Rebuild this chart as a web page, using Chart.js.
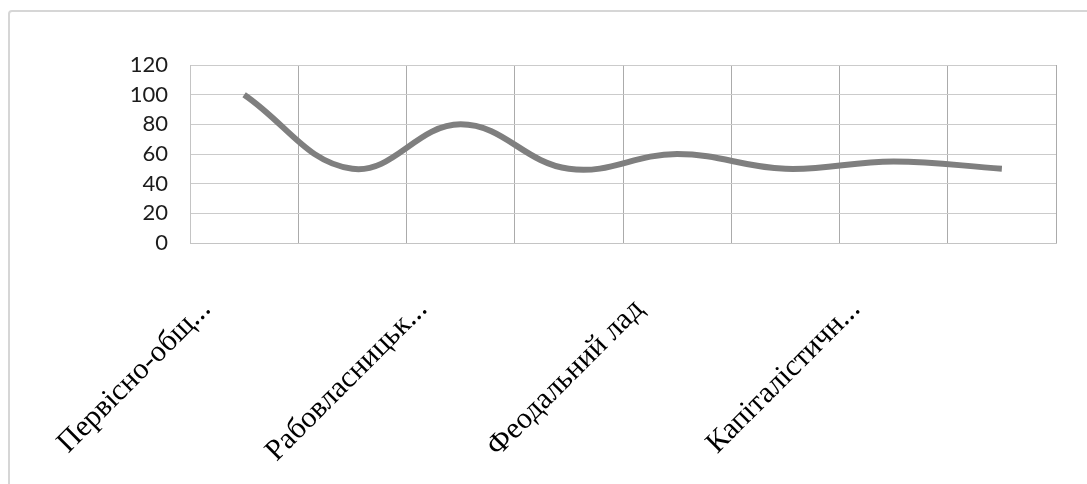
<!DOCTYPE html>
<html>
<head>
<meta charset="utf-8">
<script src="https://cdn.jsdelivr.net/npm/chart.js@4.4.1/dist/chart.umd.min.js"></script>
<style>
  html, body { margin: 0; padding: 0; background: #ffffff; overflow: hidden; }
  #frame {
    position: absolute; left: 8px; top: 10px; width: 1120px; height: 520px;
    border: 2px solid #d6d6d6; border-radius: 4px; box-sizing: border-box;
  }
  #wrap { position: absolute; left: 0; top: 0; width: 1087px; height: 484px; }
  .warm { position: absolute; left: -9999px; top: 0; }
</style>
</head>
<body>
<div id="frame"></div>
<span class="warm" style="font-family:'Liberation Serif'; font-size:30px;">Феодальний лад</span>
<span class="warm" style="font-family:'Lato'; font-size:22px;">120</span>
<div id="wrap"><canvas id="chart" width="1087" height="484"></canvas></div>
<script>
// Categories along the x axis (only every other one carries a label)
const categories = ["Первісно-общ...", "", "Рабовласницьк...", "", "Феодальний лад", "", "Капіталістичн...", ""];
// Series values
const values = [100, 50, 80, 50, 60, 50, 55, 50];
// Y axis tick range
const yMin = 0, yMax = 120, yStep = 20;

const SERIF = "'Liberation Serif', 'Times New Roman', serif";
const SANS = "Lato, 'Liberation Sans', sans-serif";

function draw() {
  new Chart(document.getElementById('chart'), {
    type: 'line',
    data: {
      labels: categories,
      datasets: [{
        data: values,
        borderColor: '#7f7f7f',
        borderWidth: 6,
        borderCapStyle: 'butt',
        pointRadius: 0,
        pointHoverRadius: 0,
        tension: 0.4,
        fill: false
      }]
    },
    options: {
      responsive: false,
      animation: false,
      events: [],
      layout: { padding: { left: 0, right: 31, top: 65, bottom: 0 } },
      plugins: { legend: { display: false }, tooltip: { enabled: false } },
      scales: {
        x: {
          type: 'category',
          offset: true,
          grid: { offset: true, color: '#ababab', lineWidth: 1, drawTicks: false },
          border: { color: '#c4c4c4', width: 1 },
          ticks: {
            autoSkip: false,
            minRotation: 45, maxRotation: 45,
            padding: 49,
            labelOffset: -38,
            color: '#000000',
            font: { family: SERIF, size: 30 }
          },
          afterFit: (s) => { s.height = 241; }
        },
        y: {
          min: yMin, max: yMax,
          grid: { color: '#cbcbcb', lineWidth: 1, drawTicks: false },
          border: { color: '#c4c4c4', width: 1 },
          ticks: {
            stepSize: yStep,
            padding: 22,
            color: '#1c1c1c',
            font: { family: SANS, size: 22 }
          },
          afterFit: (s) => { s.width = 190; }
        }
      }
    }
  });
}

Promise.all([
  document.fonts.load("30px 'Liberation Serif'", 'Феодальний'),
  document.fonts.load("22px Lato", '120')
]).then(draw, draw);
</script>
</body>
</html>
